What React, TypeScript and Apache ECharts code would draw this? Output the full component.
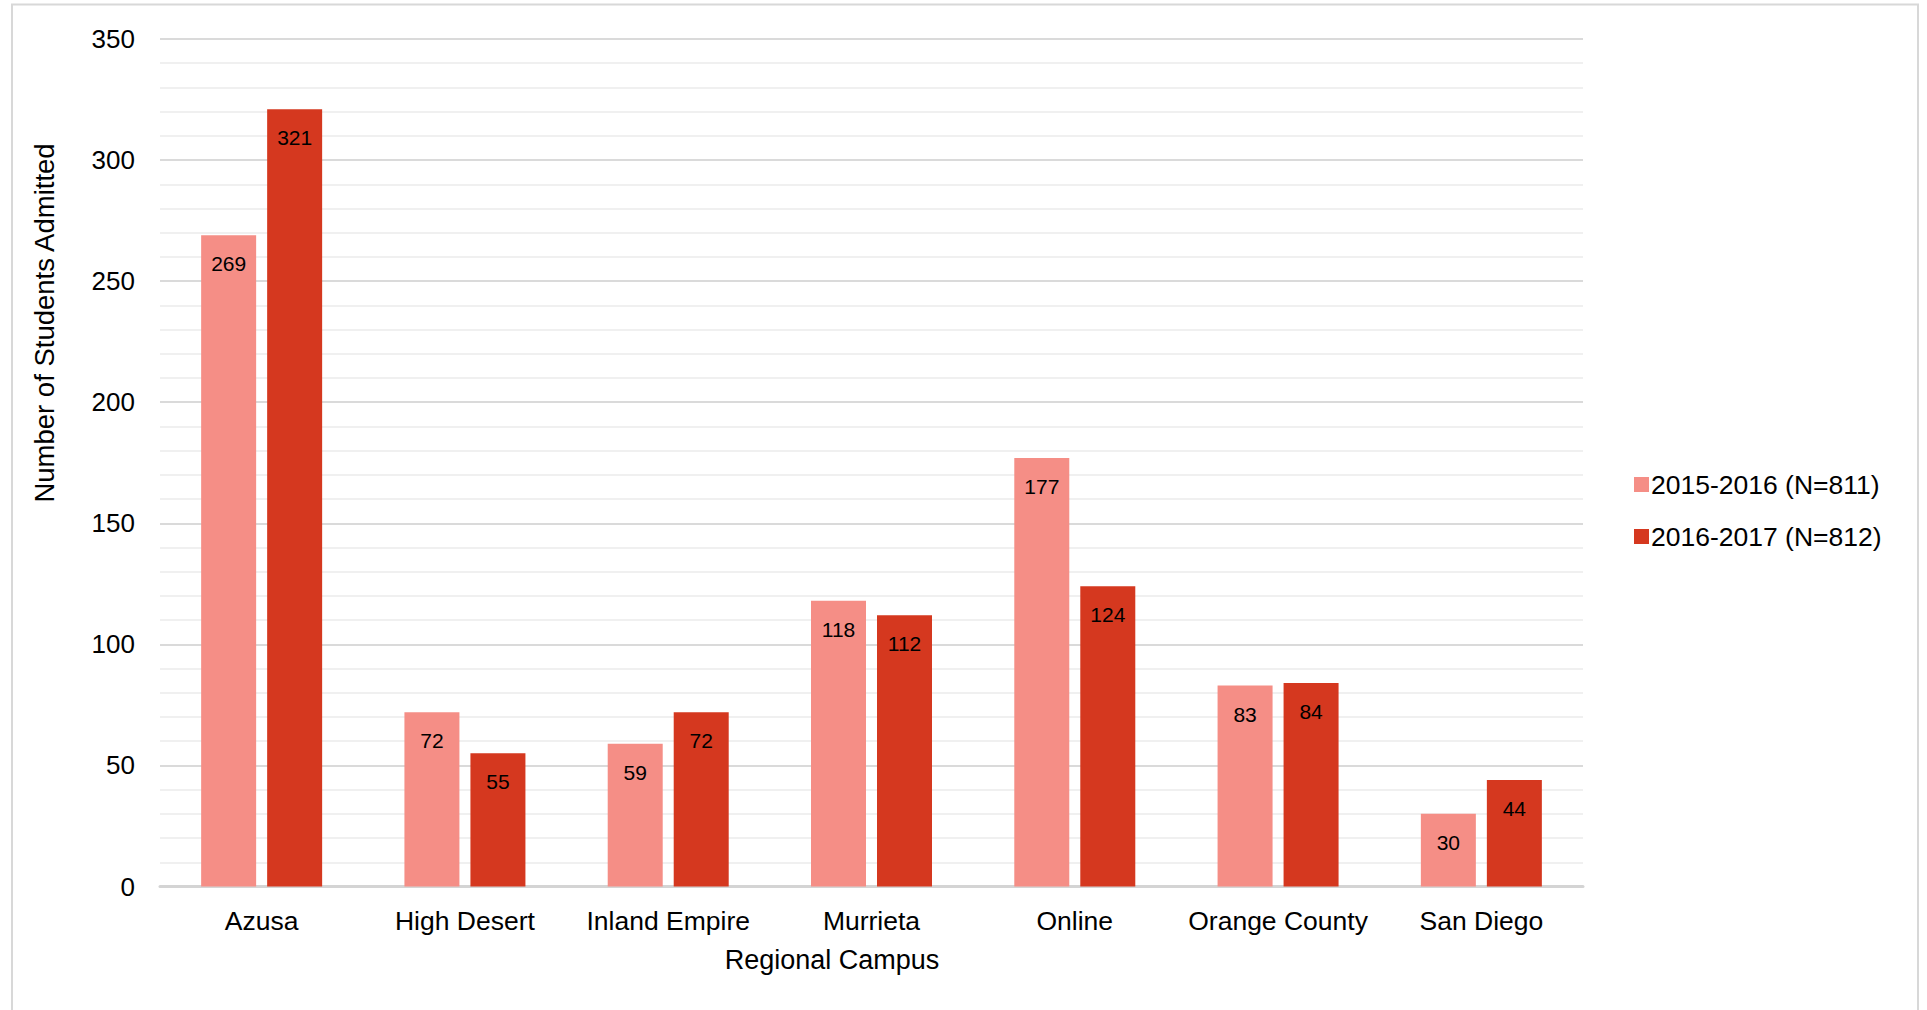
import React, { useEffect, useRef } from "react";
import * as echarts from "echarts";

const campuses = [
  "Azusa",
  "High Desert",
  "Inland Empire",
  "Murrieta",
  "Online",
  "Orange County",
  "San Diego",
];
const admitted2015 = [269, 72, 59, 118, 177, 83, 30];
const admitted2016 = [321, 55, 72, 112, 124, 84, 44];
const seriesNames = ["2015-2016 (N=811)", "2016-2017 (N=812)"];
const yTicks = { min: 0, max: 350, interval: 50 };

const FONT = '"Liberation Sans", Arial, Helvetica, sans-serif';
const LIGHT = "#F58E86";
const DARK = "#D5381F";

export default function App() {
  const ref = useRef<HTMLDivElement>(null);

  useEffect(() => {
    if (!ref.current) return;
    const chart = echarts.init(ref.current, null, { renderer: "svg" });

    const barLabel = {
      show: true,
      position: "insideTop",
      distance: 18,
      color: "#000",
      fontSize: 21,
      fontFamily: FONT,
    };

    chart.setOption({
      animation: false,
      backgroundColor: "#fff",
      textStyle: { fontFamily: FONT },
      grid: { left: 160, top: 39, right: 344, bottom: 123.5, containLabel: false },
      legend: {
        orient: "vertical",
        left: 1629,
        top: 466,
        itemWidth: 15,
        itemHeight: 15,
        itemGap: 25,
        icon: "rect",
        textStyle: { fontSize: 26.5, color: "#000", fontFamily: FONT, padding: [0, 0, 0, -3] },
        data: seriesNames,
      },
      xAxis: {
        type: "category",
        data: campuses,
        axisTick: { show: false },
        axisLine: { lineStyle: { color: "#d4d4d4", width: 3 } },
        axisLabel: { interval: 0, fontSize: 26.5, color: "#000", margin: 21, fontFamily: FONT },
      },
      yAxis: {
        type: "value",
        min: yTicks.min,
        max: yTicks.max,
        interval: yTicks.interval,
        axisLine: { show: false },
        axisTick: { show: false },
        axisLabel: { fontSize: 26, color: "#000", margin: 25, fontFamily: FONT },
        splitLine: { lineStyle: { color: "#dadada", width: 2 } },
        minorTick: { show: false, splitNumber: 5 },
        minorSplitLine: { show: true, lineStyle: { color: "#f0f0f0", width: 2 } },
      },
      series: [
        {
          name: seriesNames[0],
          type: "bar",
          data: admitted2015,
          barWidth: 55,
          barGap: "20%",
          itemStyle: { color: LIGHT },
          label: barLabel,
        },
        {
          name: seriesNames[1],
          type: "bar",
          data: admitted2016,
          barWidth: 55,
          barGap: "20%",
          itemStyle: { color: DARK },
          label: barLabel,
        },
      ],
      graphic: [
        {
          type: "rect",
          shape: { x: 12, y: 4.5, width: 1906, height: 1030 },
          style: { fill: "none", stroke: "#d8d8d8", lineWidth: 2 },
          silent: true,
          z: -1,
        },
        {
          type: "text",
          x: 44,
          y: 323,
          rotation: Math.PI / 2,
          style: {
            text: "Number of Students Admitted",
            fontSize: 27.5,
            fontFamily: FONT,
            fill: "#000",
            align: "center",
            verticalAlign: "middle",
          },
        },
        {
          type: "text",
          x: 832,
          y: 960,
          style: {
            text: "Regional Campus",
            fontSize: 27,
            fontFamily: FONT,
            fill: "#000",
            align: "center",
            verticalAlign: "middle",
          },
        },
      ],
    });

    return () => chart.dispose();
  }, []);

  return (
    <div
      ref={ref}
      style={{ position: "fixed", left: 0, top: 0, width: 1927, height: 1010 }}
    />
  );
}
